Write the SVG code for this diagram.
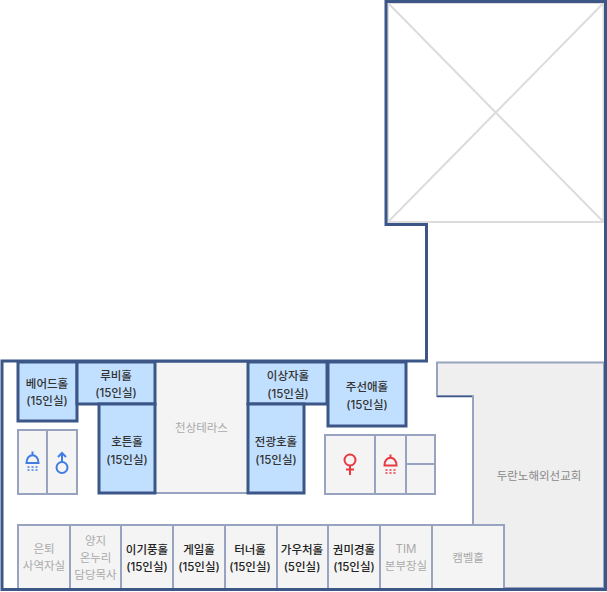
<svg xmlns="http://www.w3.org/2000/svg" width="607" height="592" viewBox="0 0 607 592">
<style>
text{font-family:Inter,"Noto Sans CJK KR","Noto Sans",sans-serif;font-size:11.5px;text-anchor:middle}
.d{fill:#333;font-weight:500}.b{fill:#222;font-weight:500}.g{fill:#aaa}
.hall{fill:#c1e0ff;stroke:#3d5688;stroke-width:3}
.room{fill:#f4f4f4;stroke:#98a3bf;stroke-width:2}
.wall{fill:none;stroke:#3d5688;stroke-width:3}
.in{fill:none;stroke:#98a3bf;stroke-width:2}
.x{fill:none;stroke:#dcdcdc;stroke-width:2}
.blue{fill:none;stroke:#3f7de3;stroke-width:2}
.red{fill:none;stroke:#e8393f;stroke-width:2}
.dotb{stroke:#3f7de3;stroke-width:1.500;stroke-dasharray:2 2;fill:none}
.dotr{stroke:#e8393f;stroke-width:1.500;stroke-dasharray:2 2;fill:none}
</style>
<g id="void"><path class="x" d="M388 3H603.500V222H388ZM388 3L603.500 222M603.500 3L388 222"/></g>
<g id="duranno"><path d="M437 362.500H604V588H473V396H437Z" fill="#efefef" stroke="#98a3bf" stroke-width="2"/><path d="M437 396.500H472" fill="none" stroke="#3d5688" stroke-width="1.500"/><text x="539" y="480" style="fill:#888">두란노해외선교회</text></g>
<g id="terrace"><rect class="room" x="155" y="362" width="93" height="131"/><text class="g" x="201.500" y="432">천상테라스</text></g>
<g id="wc-left"><rect class="room" x="18" y="430" width="59" height="64"/><path class="in" d="M47 430V494"/>
<path class="blue" d="M26.500 463C26.500 452.500 38.500 452.500 38.500 463H25.500M32.500 451.500V455"/><path class="dotb" d="M27.500 467H38M27.500 470H38"/>
<circle class="blue" cx="62" cy="467.500" r="5.500"/><path class="blue" d="M62 462V453M58 457L62 453L66 457"/></g>
<g id="wc-right"><rect class="room" x="325" y="435" width="110" height="59"/><path class="in" d="M375 435V494M406 435V494M406 464H435"/>
<circle class="red" cx="350" cy="460" r="5.500"/><path class="red" d="M350 465.500V475M346 469.500H354"/>
<path class="red" d="M384.500 465.500C384.500 455 396.500 455 396.500 465.500H383.500M390.500 454.500V458"/><path class="dotr" d="M385.500 470H396M385.500 473H396"/></g>
<g id="bottom-rooms">
<rect class="room" x="18" y="525" width="52" height="64"/><text class="g" x="44" y="553">은퇴</text><text class="g" x="44" y="570">사역자실</text>
<rect class="room" x="70" y="525" width="51" height="64"/><text class="g" x="95.500" y="545">양지</text><text class="g" x="95.500" y="562">온누리</text><text class="g" x="95.500" y="579">담당목사</text>
<rect class="room" x="121" y="525" width="52" height="64"/><text class="b" x="147" y="554">이기풍홀</text><text class="b" x="147" y="571">(15인실)</text>
<rect class="room" x="173" y="525" width="52" height="64"/><text class="b" x="199" y="554">게일홀</text><text class="b" x="199" y="571">(15인실)</text>
<rect class="room" x="225" y="525" width="52" height="64"/><text class="b" x="250" y="554">터너홀</text><text class="b" x="250" y="571">(15인실)</text>
<rect class="room" x="277" y="525" width="51" height="64"/><text class="b" x="302" y="554">가우처홀</text><text class="b" x="302" y="571">(5인실)</text>
<rect class="room" x="328" y="525" width="52" height="64"/><text class="b" x="354" y="554">권미경홀</text><text class="b" x="354" y="571">(15인실)</text>
<rect class="room" x="380" y="525" width="52" height="64"/><text class="g" x="406" y="553">TIM</text><text class="g" x="406" y="570">본부장실</text>
<rect class="room" x="432" y="525" width="72" height="64"/><text class="g" x="468" y="562">캠벨홀</text>
</g>
<g id="outer"><path class="wall" d="M386 1.500H605.500V589.500H2V361H426.500V224.500H386Z"/></g>
<g id="halls">
<rect class="hall" x="18" y="362" width="59" height="59"/><text class="d" x="47" y="388">베어드홀</text><text class="d" x="47" y="405">(15인실)</text>
<rect class="hall" x="77" y="362" width="78" height="42"/><text class="d" x="116" y="380">루비홀</text><text class="d" x="116" y="397">(15인실)</text>
<rect class="hall" x="99" y="404" width="56" height="89"/><text class="d" x="127" y="446">호튼홀</text><text class="d" x="127" y="464">(15인실)</text>
<rect class="hall" x="248" y="362" width="79" height="42"/><text class="d" x="288" y="380">이상자홀</text><text class="d" x="288" y="398">(15인실)</text>
<rect class="hall" x="248" y="404" width="56" height="89"/><text class="d" x="276" y="446">전광호홀</text><text class="d" x="276" y="464">(15인실)</text>
<rect class="hall" x="328" y="362" width="78" height="64"/><text class="d" x="367" y="391">주선애홀</text><text class="d" x="367" y="409">(15인실)</text>
</g>
</svg>
